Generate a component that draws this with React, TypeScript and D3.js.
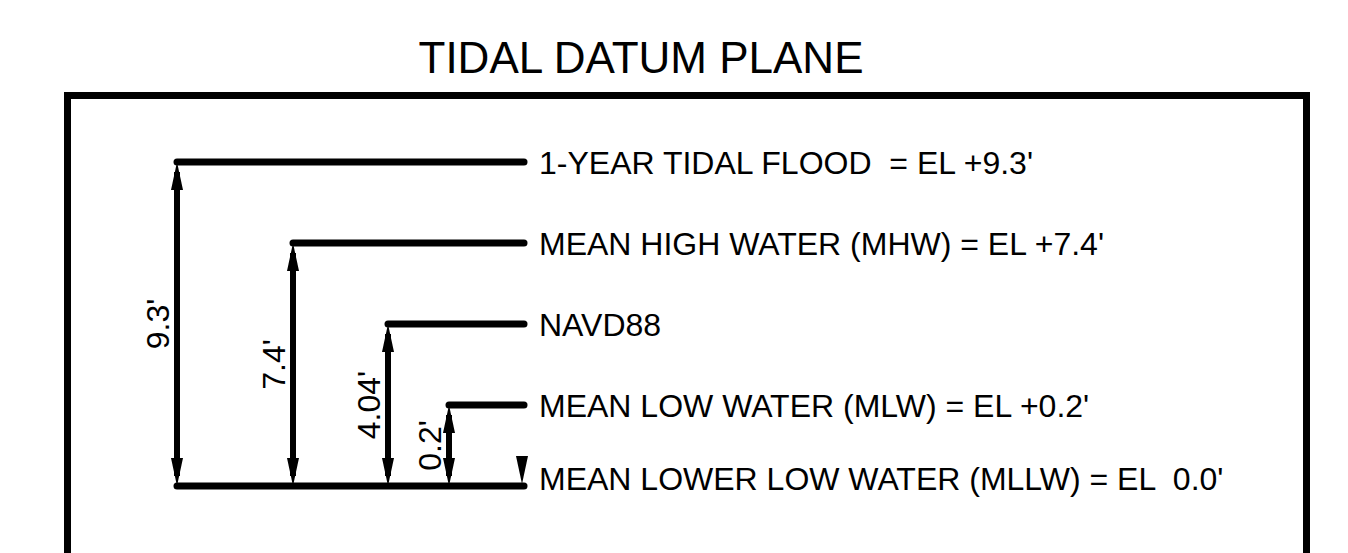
import * as d3 from "d3";

// tidal datum levels, top to bottom (not drawn to scale in the original sheet)
const levelKeys = ["FLOOD", "MHW", "NAVD88", "MLW", "MLLW"];
const levelLabels = [
  "1-YEAR TIDAL FLOOD  = EL +9.3'",
  "MEAN HIGH WATER (MHW) = EL +7.4'",
  "NAVD88",
  "MEAN LOW WATER (MLW) = EL +0.2'",
  "MEAN LOWER LOW WATER (MLLW) = EL  0.0'",
];
const elevations = [9.3, 7.4, 4.04, 0.2, 0.0];
const dimLabels = ["9.3'", "7.4'", "4.04'", "0.2'"];

const W = 1348;
const H = 553;
// x of each dimension arrow (left end of its datum line)
const arrowX = [177, 293, 388, 449];
const lineEnd = 524;
const labelX = 539;

export default function App() {
  const y = d3.scalePoint<string>().domain(levelKeys).range([162, 486]);
  const baseY = y("MLLW")!;
  const headLen = 28;
  const headW = 6;

  const arrowHead = (x: number, tipY: number, dir: number) =>
    `M${x},${tipY} L${x - headW},${tipY + dir * headLen} L${x + headW},${tipY + dir * headLen} Z`;

  return (
    <svg
      width={W}
      height={H}
      style={{ position: "absolute", left: 0, top: 0, background: "#fff" }}
      fontFamily="'Liberation Sans', Arial, sans-serif"
    >
      <rect width={W} height={H} fill="#fff" />
      <text x={641} y={73} fontSize={44} textAnchor="middle" fill="#000">
        TIDAL DATUM PLANE
      </text>

      {/* drawing border, open at the bottom */}
      <path
        d={`M67.5,${H} V95.5 H1306.5 V${H}`}
        fill="none"
        stroke="#000"
        strokeWidth={7}
      />

      {/* datum lines */}
      {levelKeys.map((k, i) => {
        const x0 = i < arrowX.length ? arrowX[i] : arrowX[0];
        return (
          <line
            key={k}
            x1={x0}
            x2={lineEnd}
            y1={y(k)}
            y2={y(k)}
            stroke="#000"
            strokeWidth={7}
            strokeLinecap="round"
          />
        );
      })}

      {/* dimension arrows */}
      {dimLabels.map((d, i) => {
        const x = arrowX[i];
        const top = y(levelKeys[i])!;
        const mid = (top + baseY) / 2;
        return (
          <g key={d}>
            <line x1={x} x2={x} y1={top + 10} y2={baseY - 10} stroke="#000" strokeWidth={6} />
            <path d={arrowHead(x, top, 1)} fill="#000" />
            <path d={arrowHead(x, baseY, -1)} fill="#000" />
            <text
              transform={`translate(${x - 8},${mid}) rotate(-90)`}
              fontSize={32}
              textAnchor="middle"
              fill="#000"
            >
              {d}
            </text>
          </g>
        );
      })}

      {/* small tick arrow at the MLLW end */}
      <path d={arrowHead(lineEnd - 2, baseY - 2, -1)} fill="#000" />

      {/* level labels */}
      {levelKeys.map((k, i) => (
        <text
          key={k}
          x={labelX}
          y={y(k)! + (i === levelKeys.length - 1 ? 4 : 12)}
          fontSize={32}
          fill="#000"
          style={{ whiteSpace: "pre" }}
          data-elevation={elevations[i]}
        >
          {levelLabels[i]}
        </text>
      ))}
    </svg>
  );
}
